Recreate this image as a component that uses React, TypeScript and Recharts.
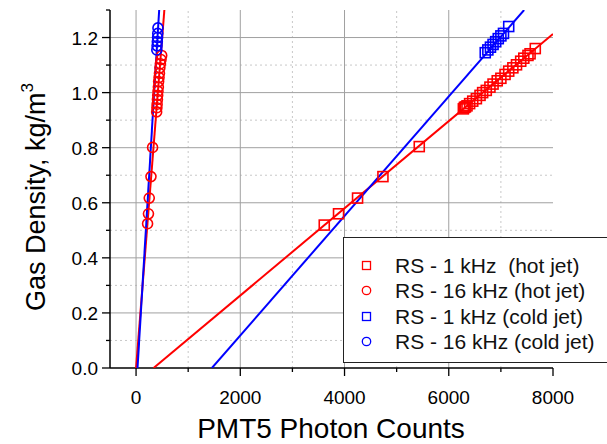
import { Legend, ReferenceLine, Scatter, ScatterChart, XAxis, YAxis } from "recharts";

const FONT = '"Liberation Sans", Arial, sans-serif';
const RED = "#ff0000";
const BLUE = "#0000ff";

const xDomain: [number, number] = [-500, 8000];
const yDomain: [number, number] = [0, 1.3];

const xMajor = [0, 2000, 4000, 6000, 8000];
const xMinor = [1000, 3000, 5000, 7000];
const yMajor = [0, 0.2, 0.4, 0.6, 0.8, 1.0, 1.2];
const yMinor = [0.1, 0.3, 0.5, 0.7, 0.9, 1.1, 1.3];

// RS - 1 kHz (hot jet): [photon counts, density]
const hot1kHz: [number, number][] = [
  [3611, 0.519], [3885, 0.56], [4250, 0.617], [4737, 0.695], [5434, 0.804],
  [6280, 0.941], [6300, 0.946], [6320, 0.948], [6350, 0.952], [6400, 0.96],
  [6460, 0.969], [6530, 0.978], [6600, 0.99], [6650, 1.0], [6720, 1.008],
  [6790, 1.02], [6850, 1.031], [6930, 1.043], [7000, 1.052], [7080, 1.066],
  [7150, 1.078], [7230, 1.09], [7300, 1.101], [7380, 1.114], [7440, 1.125],
  [7520, 1.135], [7560, 1.141], [7660, 1.16]
];

// RS - 16 kHz (hot jet)
const hot16kHz: [number, number][] = [
  [221, 0.524], [238, 0.56], [253, 0.617], [286, 0.695], [317, 0.801],
  [395, 0.93], [400, 0.945], [404, 0.958], [410, 0.975], [415, 0.99],
  [421, 1.005], [428, 1.02], [433, 1.04], [441, 1.055], [449, 1.07],
  [457, 1.09], [467, 1.105], [479, 1.12], [492, 1.135]
];

// RS - 1 kHz (cold jet)
const cold1kHz: [number, number][] = [
  [6700, 1.145], [6750, 1.155], [6800, 1.165], [6850, 1.175], [6900, 1.185],
  [6950, 1.196], [7000, 1.206], [7050, 1.215], [7150, 1.24]
];

// RS - 16 kHz (cold jet)
const cold16kHz: [number, number][] = [
  [398, 1.155], [403, 1.17], [408, 1.185], [412, 1.2], [416, 1.215], [420, 1.235]
];

// linear fits: density = slope * (counts - x0)
const hot1kFit = { x0: 336, slope: 1.583e-4 };
const hot16kFit = { x0: 0, slope: 2.394e-3 };
const cold1kFit = { x0: 1455, slope: 2.17e-4 };
const cold16kFit = { x0: 28, slope: 3.13e-3 };

const legendRows = [
  { label: "RS - 1 kHz  (hot jet)", color: RED, marker: "square" },
  { label: "RS - 16 kHz (hot jet)", color: RED, marker: "circle" },
  { label: "RS - 1 kHz (cold jet)", color: BLUE, marker: "square" },
  { label: "RS - 16 kHz (cold jet)", color: BLUE, marker: "circle" }
];

const toPoints = (pairs: [number, number][]) => pairs.map(([x, y]) => ({ x, y }));

const fitPoints = (fit: { x0: number; slope: number }) => {
  let xEnd = fit.x0 + yDomain[1] / fit.slope;
  if (xEnd > xDomain[1]) xEnd = xDomain[1];
  return [
    { x: fit.x0, y: 0 },
    { x: xEnd, y: fit.slope * (xEnd - fit.x0) }
  ];
};

const squareShape = (color: string) => (props: any) => (
  <rect x={props.cx - 5} y={props.cy - 5} width={10} height={10} fill="none" stroke={color} strokeWidth={1.6} />
);

const circleShape = (color: string) => (props: any) => (
  <circle cx={props.cx} cy={props.cy} r={5} fill="none" stroke={color} strokeWidth={1.6} />
);

const noShape = () => <g />;

const XTick = (props: any) => {
  const { x, y, payload } = props;
  const major = xMajor.includes(payload.value);
  return (
    <g>
      <line x1={x} x2={x} y1={y} y2={y + (major ? 8 : 4)} stroke="#000" strokeWidth={1.3} />
      {major && (
        <text x={x} y={y + 36} textAnchor="middle" fontSize={19} fontFamily={FONT} fill="#000">
          {payload.value}
        </text>
      )}
    </g>
  );
};

const YTick = (props: any) => {
  const { x, y, payload } = props;
  const major = yMajor.some((v) => Math.abs(v - payload.value) < 1e-6);
  return (
    <g>
      <line x1={x} x2={x - (major ? 8 : 4)} y1={y} y2={y} stroke="#000" strokeWidth={1.3} />
      {major && (
        <text x={x - 12} y={y + 7} textAnchor="end" fontSize={19} fontFamily={FONT} fill="#000">
          {payload.value.toFixed(1)}
        </text>
      )}
    </g>
  );
};

const LegendBox = () => (
  <div
    style={{
      boxSizing: "border-box",
      width: 300,
      height: 126,
      border: "1px solid #222",
      background: "#fff",
      paddingTop: 15,
      fontFamily: FONT,
      fontSize: 21,
      color: "#111"
    }}
  >
    {legendRows.map((row) => (
      <div key={row.label} style={{ height: 25.3, lineHeight: "25.3px", position: "relative", whiteSpace: "pre" }}>
        <svg width={12} height={12} style={{ position: "absolute", left: 17, top: 7 }}>
          {row.marker === "square" ? (
            <rect x={1.5} y={1.5} width={8} height={8} fill="none" stroke={row.color} strokeWidth={1.3} />
          ) : (
            <circle cx={5.5} cy={5.5} r={4.2} fill="none" stroke={row.color} strokeWidth={1.3} />
          )}
        </svg>
        <span style={{ position: "absolute", left: 51 }}>{row.label}</span>
      </div>
    ))}
  </div>
);

const App = () => (
  <div style={{ position: "absolute", left: 0, top: 0, width: 607, height: 444, overflow: "hidden", background: "#fff" }}>
    <ScatterChart width={607} height={444} margin={{ top: 10, right: 54, bottom: 0, left: 0 }}>
      <XAxis
        type="number"
        dataKey="x"
        domain={xDomain}
        ticks={[...xMajor, ...xMinor].sort((a, b) => a - b)}
        interval={0}
        allowDataOverflow
        height={76}
        tickSize={0}
        tickMargin={0}
        tickLine={false}
        tick={<XTick />}
        axisLine={{ stroke: "#000", strokeWidth: 1.5 }}
      />
      <YAxis
        type="number"
        dataKey="y"
        domain={yDomain}
        ticks={[...yMajor, ...yMinor].sort((a, b) => a - b)}
        interval={0}
        allowDataOverflow
        width={110}
        tickSize={0}
        tickMargin={0}
        tickLine={false}
        tick={<YTick />}
        axisLine={{ stroke: "#000", strokeWidth: 1.5 }}
      />

      {xMinor.map((v) => (
        <ReferenceLine key={`xm${v}`} x={v} stroke="#c8c8c8" strokeDasharray="2 3" />
      ))}
      {yMinor.slice(0, -1).map((v) => (
        <ReferenceLine key={`ym${v}`} y={v} stroke="#c8c8c8" strokeDasharray="2 3" />
      ))}
      {xMajor.slice(0, -1).map((v) => (
        <ReferenceLine key={`xM${v}`} x={v} stroke="#a0a0a0" />
      ))}
      {yMajor.slice(1).map((v) => (
        <ReferenceLine key={`yM${v}`} y={v} stroke="#a0a0a0" />
      ))}

      <Scatter data={fitPoints(hot1kFit)} line={{ stroke: RED, strokeWidth: 2 }} shape={noShape} legendType="none" isAnimationActive={false} />
      <Scatter data={fitPoints(cold1kFit)} line={{ stroke: BLUE, strokeWidth: 2 }} shape={noShape} legendType="none" isAnimationActive={false} />
      <Scatter data={fitPoints(hot16kFit)} line={{ stroke: RED, strokeWidth: 2 }} shape={noShape} legendType="none" isAnimationActive={false} />
      <Scatter data={fitPoints(cold16kFit)} line={{ stroke: BLUE, strokeWidth: 2 }} shape={noShape} legendType="none" isAnimationActive={false} />

      <Scatter name="RS - 1 kHz  (hot jet)" data={toPoints(hot1kHz)} shape={squareShape(RED)} isAnimationActive={false} />
      <Scatter name="RS - 16 kHz (hot jet)" data={toPoints(hot16kHz)} shape={circleShape(RED)} isAnimationActive={false} />
      <Scatter name="RS - 1 kHz (cold jet)" data={toPoints(cold1kHz)} shape={squareShape(BLUE)} isAnimationActive={false} />
      <Scatter name="RS - 16 kHz (cold jet)" data={toPoints(cold16kHz)} shape={circleShape(BLUE)} isAnimationActive={false} />

      <Legend
        layout="vertical"
        align="center"
        verticalAlign="middle"
        content={<LegendBox />}
        wrapperStyle={{ position: "absolute", left: 343, top: 237, width: 300, height: 126 }}
      />

      <text x={331} y={438} textAnchor="middle" fontSize={28} fontFamily={FONT} fill="#000">
        PMT5 Photon Counts
      </text>
      <text
        x={45}
        y={197}
        transform="rotate(-90, 45, 197)"
        textAnchor="middle"
        fontSize={27}
        fontFamily={FONT}
        fill="#000"
      >
        Gas Density, kg/m
        <tspan fontSize={17} dy={-12}>3</tspan>
      </text>
    </ScatterChart>
  </div>
);

export default App;
